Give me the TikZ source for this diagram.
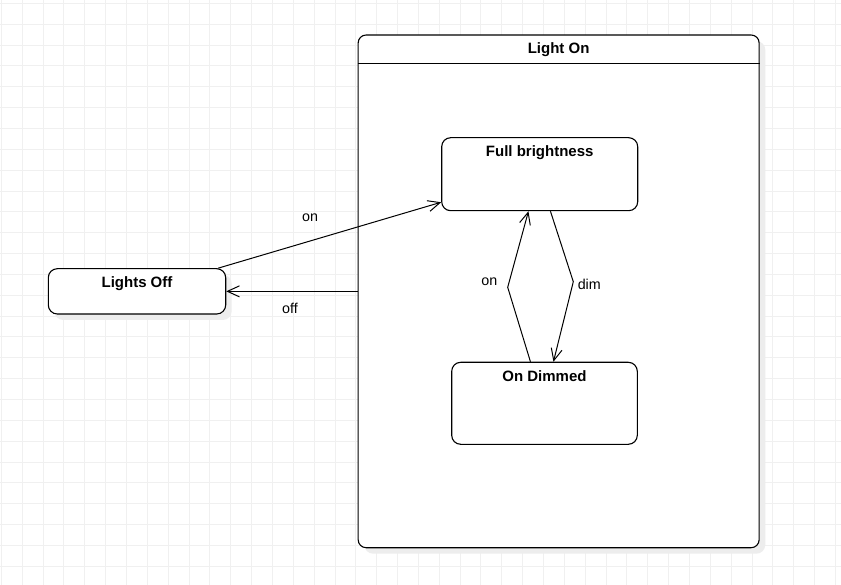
\documentclass[tikz,border=0pt]{standalone}
\usepackage{fontspec}
\setmainfont{Liberation Sans}
\usetikzlibrary{arrows.meta}
\begin{document}
\begin{tikzpicture}[x=1pt,y=-1pt,
  box/.style={draw=black, line width=1.1pt, fill=white, rounded corners=9pt, inner sep=0pt},
  shadowfill/.style={fill=black!7, draw=none, rounded corners=9pt},
  ttl/.style={font=\bfseries\fontsize{15}{18}\selectfont, anchor=base, inner sep=0pt},
  lbl/.style={font=\fontsize{14.3}{17}\selectfont, anchor=base, inner sep=0pt},
  edge/.style={line width=1pt, draw=black},
  arr/.style={edge, -{Straight Barb[length=12pt,width=11pt,line width=1pt]}},
  gridline/.style={draw=black!6, line width=0.8pt}]

\useasboundingbox (0,0) rectangle (841,585);
\fill[white] (0,0) rectangle (841,585);
\foreach \i in {0,...,40} \draw[gridline] ({1.3+\i*20.85},0) -- ({1.3+\i*20.85},585);
\foreach \j in {0,...,27} \draw[gridline] (0,{3.3+\j*20.85}) -- (841,{3.3+\j*20.85});

% shadows
\fill[shadowfill] (364.3,41) rectangle (765.3,553.7);
\fill[shadowfill] (54.3,274.7) rectangle (231.7,320);
\fill[shadowfill] (447.7,143.7) rectangle (643.7,216.7);
\fill[shadowfill] (457.7,368.3) rectangle (643.3,450.3);

% states
\node[box, minimum width=401pt, minimum height=512.7pt, rounded corners=8pt] (lon) at (558.65,291.35) {};
\draw[line width=1.1pt] ([yshift=-28.7pt]lon.north west) -- ([yshift=-28.7pt]lon.north east);
\node[ttl] (lonT) at ([yshift=-19.4pt]lon.north) {Light On};

\node[box, minimum width=177.4pt, minimum height=45.3pt] (off) at (137,291.35) {};
\node[ttl] (offT) at ([yshift=-19.4pt]off.north) {Lights Off};

\node[box, minimum width=196pt, minimum height=73pt] (fb) at (539.7,174.2) {};
\node[ttl] (fbT) at ([yshift=-19.5pt]fb.north) {Full brightness};

\node[box, minimum width=185.6pt, minimum height=82pt] (dim) at (544.5,403.3) {};
\node[ttl] (dimT) at ([yshift=-19.4pt]dim.north) {On Dimmed};

% transitions
\coordinate (w1) at (507.7,287.3);
\coordinate (w2) at (573.3,281.7);
\draw[arr] ([xshift=-8pt]off.north east) -- ([yshift=9pt]fb.south west);
\draw[arr] (lon.west) -- (off.east);
\draw[arr] ([xshift=79.3pt]dim.north west) -- (w1) -- ([xshift=87.3pt]fb.south west);
\draw[arr] ([xshift=109.3pt]fb.south west) -- (w2) -- ([xshift=102.3pt]dim.north west);

% labels
\node[lbl] (l1) at (310,221.7) {on};
\node[lbl] (l2) at (290,313.3) {off};
\node[lbl] (l3) at (489.3,286) {on};
\node[lbl] (l4) at (589.3,290) {dim};
\end{tikzpicture}
\end{document}
